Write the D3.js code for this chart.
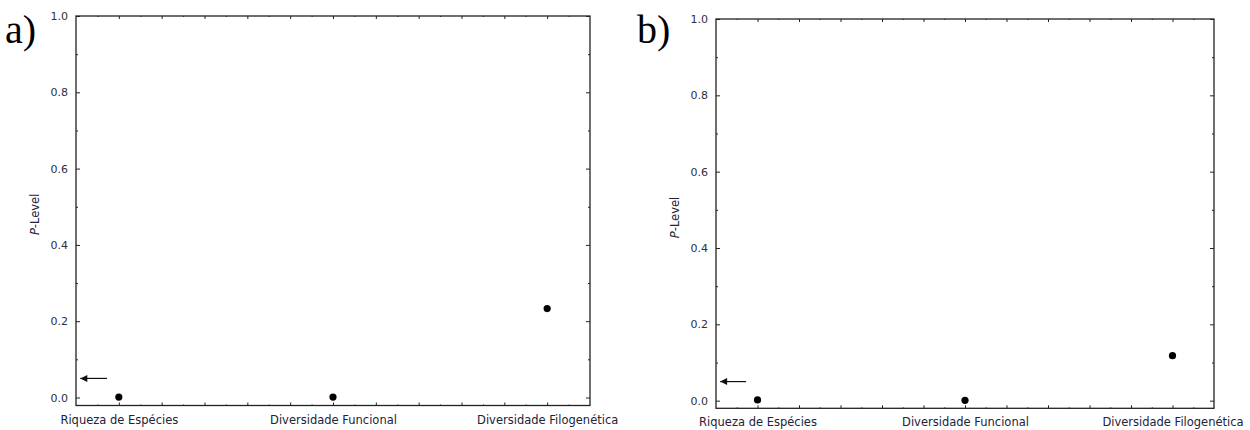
<!DOCTYPE html>
<html>
<head>
<meta charset="utf-8">
<script src="https://cdn.jsdelivr.net/npm/d3@7"></script>
<style>
  body { margin: 0; background: #fff; }
  svg { display: block; }
  .tick text { font-family: "DejaVu Sans", Verdana, sans-serif; }
</style>
</head>
<body>
<svg id="chart" width="1250" height="430"></svg>
<script>
// data
var categories = ["Riqueza de Espécies", "Diversidade Funcional", "Diversidade Filogenética"];
var pLevelA = [0.001, 0.001, 0.233];
var pLevelB = [0.002, 0.001, 0.118];
var alphaLevel = 0.05;
var yMajorTicks = [0.0, 0.2, 0.4, 0.6, 0.8, 1.0];
var yMinorTicks = [0.1, 0.3, 0.5, 0.7, 0.9];
var xTicks = d3.range(-1, 22).map(function(i) { return i / 10; });
var panelLabels = ["a)", "b)"];

var svg = d3.select("#chart");

function drawPanel(opts) {
    var x = d3.scaleLinear().domain([-0.2, 2.2]).range([opts.left, opts.right]);
    var y = d3.scaleLinear().domain([opts.yMin, 1]).range([opts.bottom, opts.top]);

    var g = svg.append("g");

    // frame
    g.append("rect")
        .attr("x", opts.left).attr("y", opts.top)
        .attr("width", opts.right - opts.left)
        .attr("height", opts.bottom - opts.top)
        .attr("fill", "none")
        .attr("stroke", "#222")
        .attr("stroke-width", 1.3);

    function tickLen(v) { return Math.round(v * 10) % 2 === 0 ? 4 : 2; }

    // left axis, major with labels
    g.append("g")
        .attr("transform", "translate(" + opts.left + ",0)")
        .call(d3.axisLeft(y).tickValues(yMajorTicks).tickSize(-4).tickPadding(8)
              .tickFormat(d3.format(".1f")))
        .call(function(a) {
            a.select(".domain").remove();
            a.selectAll("line").attr("stroke", "#222");
            a.selectAll("text").style("font-size", "11px").attr("fill", "#2e2e44");
        });
    // left minor ticks
    g.append("g")
        .attr("transform", "translate(" + opts.left + ",0)")
        .call(d3.axisLeft(y).tickValues(yMinorTicks).tickSize(-2).tickFormat(""))
        .call(function(a) { a.select(".domain").remove(); a.selectAll("line").attr("stroke", "#222"); });
    // right ticks
    g.append("g")
        .attr("transform", "translate(" + opts.right + ",0)")
        .call(d3.axisRight(y).tickValues(yMajorTicks).tickSize(-4).tickFormat(""))
        .call(function(a) { a.select(".domain").remove(); a.selectAll("line").attr("stroke", "#222"); });
    g.append("g")
        .attr("transform", "translate(" + opts.right + ",0)")
        .call(d3.axisRight(y).tickValues(yMinorTicks).tickSize(-2).tickFormat(""))
        .call(function(a) { a.select(".domain").remove(); a.selectAll("line").attr("stroke", "#222"); });

    // bottom & top ticks
    [["bottom", opts.bottom, d3.axisBottom], ["top", opts.top, d3.axisTop]].forEach(function(s) {
        var ax = g.append("g").attr("transform", "translate(0," + s[1] + ")")
            .call(s[2](x).tickValues(xTicks).tickSize(-3).tickFormat(""));
        ax.select(".domain").remove();
        ax.selectAll(".tick line")
            .attr("stroke", "#222")
            .attr("y2", function(d) { return s[0] === "bottom" ? -tickLen(d) + 1 : tickLen(d) - 1; });
    });

    // category labels
    g.append("g")
        .attr("transform", "translate(0," + opts.bottom + ")")
        .call(d3.axisBottom(x).tickValues([0, 1, 2]).tickSize(0).tickPadding(10)
              .tickFormat(function(d) { return categories[d]; }))
        .call(function(a) {
            a.select(".domain").remove();
            a.selectAll("text").style("font-size", "11.5px").attr("fill", "#222238");
        });

    // y title
    var t = g.append("text")
        .attr("transform", "translate(" + (opts.left - 41) + "," + y(0.48) + ") rotate(-90)")
        .attr("text-anchor", "middle")
        .attr("dominant-baseline", "central")
        .style("font-family", "'DejaVu Sans', Verdana, sans-serif")
        .style("font-size", "11.5px")
        .attr("fill", "#222238");
    t.append("tspan").style("font-style", "italic").text("P");
    t.append("tspan").text("-Level");

    // alpha arrow
    var ay = y(alphaLevel);
    g.append("line")
        .attr("x1", x(-0.055)).attr("x2", x(-0.18))
        .attr("y1", ay).attr("y2", ay)
        .attr("stroke", "#111").attr("stroke-width", 1.2);
    var ax0 = x(-0.18);
    g.append("path")
        .attr("d", "M" + ax0 + "," + ay + "l7,-3.5l0,7z")
        .attr("fill", "#111");

    // points
    g.selectAll("circle.pt")
        .data(opts.values)
        .enter().append("circle")
        .attr("class", "pt")
        .attr("cx", function(d, i) { return x(i); })
        .attr("cy", function(d) { return y(d); })
        .attr("r", 3.6)
        .attr("fill", "#000");

    // panel letter
    svg.append("text")
        .attr("x", opts.letterX).attr("y", opts.letterY)
        .style("font-family", "'Liberation Serif', 'Times New Roman', serif")
        .style("font-size", "40px")
        .attr("fill", "#000")
        .text(opts.letter);
}

drawPanel({ left: 76, right: 590, top: 16, bottom: 405.5, yMin: -0.021,
            values: pLevelA, letter: panelLabels[0], letterX: 5, letterY: 43 });
drawPanel({ left: 716, right: 1214, top: 19, bottom: 408.3, yMin: -0.02,
            values: pLevelB, letter: panelLabels[1], letterX: 637, letterY: 43 });
</script>
</body>
</html>
